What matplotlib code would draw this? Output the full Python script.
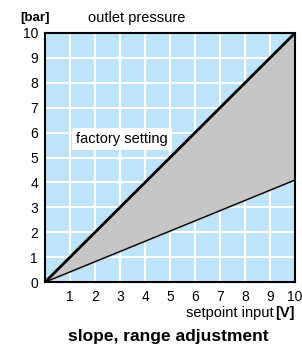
import matplotlib
matplotlib.use('Agg')
import matplotlib.pyplot as plt

plt.rcParams['font.family'] = ['Liberation Sans', 'DejaVu Sans']

# setpoint input [V] and outlet pressure [bar]
setpoint = [0, 10]
upper_pressure = [0, 10]    # factory setting, steepest slope
lower_pressure = [0, 4.1]   # minimum slope
x_ticks = [1, 2, 3, 4, 5, 6, 7, 8, 9, 10]
y_ticks = [0, 1, 2, 3, 4, 5, 6, 7, 8, 9, 10]

fig = plt.figure(figsize=(3.02, 3.47), dpi=100)
ax = fig.add_axes([0.149, 0.187, 0.828, 0.718])
ax.set_facecolor('#bde4f9')

ax.fill_between(setpoint, lower_pressure, upper_pressure, color='#c6c6c6', zorder=2)
ax.plot(setpoint, upper_pressure, color='black', lw=2.0, zorder=3)
ax.plot(setpoint, lower_pressure, color='black', lw=1.0, zorder=3)

ax.set_xlim(0, 10)
ax.set_ylim(0, 10)
ax.set_xticks(x_ticks)
ax.set_yticks(y_ticks)
ax.grid(True, color='white', lw=1.5, zorder=1)
ax.set_axisbelow(True)
ax.tick_params(length=0, labelsize=10, pad=5)
ax.tick_params(axis='x', pad=6)
for s in ax.spines.values():
    s.set_linewidth(1.5)
    s.set_zorder(4)

ax.text(1.25, 5.75, 'factory setting', fontsize=10.5, va='center', ha='left',
        bbox=dict(facecolor='white', edgecolor='none', pad=3), zorder=5)

fig.text(0.066, 0.948, '[bar]', fontsize=9.5, fontweight='bold', ha='left', va='center')
fig.text(0.29, 0.948, 'outlet pressure', fontsize=10.5, ha='left', va='center')
fig.text(0.977, 0.098, '[V]', fontsize=10.5, fontweight='bold', ha='right', va='center')
ax.annotate('setpoint input', xy=(0.977, 0.098), xycoords='figure fraction',
            xytext=(-15.5, 0), textcoords='offset points',
            fontsize=10.5, ha='right', va='center')
fig.text(0.556, 0.03, 'slope, range adjustment', fontsize=12.5, fontweight='bold',
         ha='center', va='center')

fig.savefig('out.png', dpi=100)
